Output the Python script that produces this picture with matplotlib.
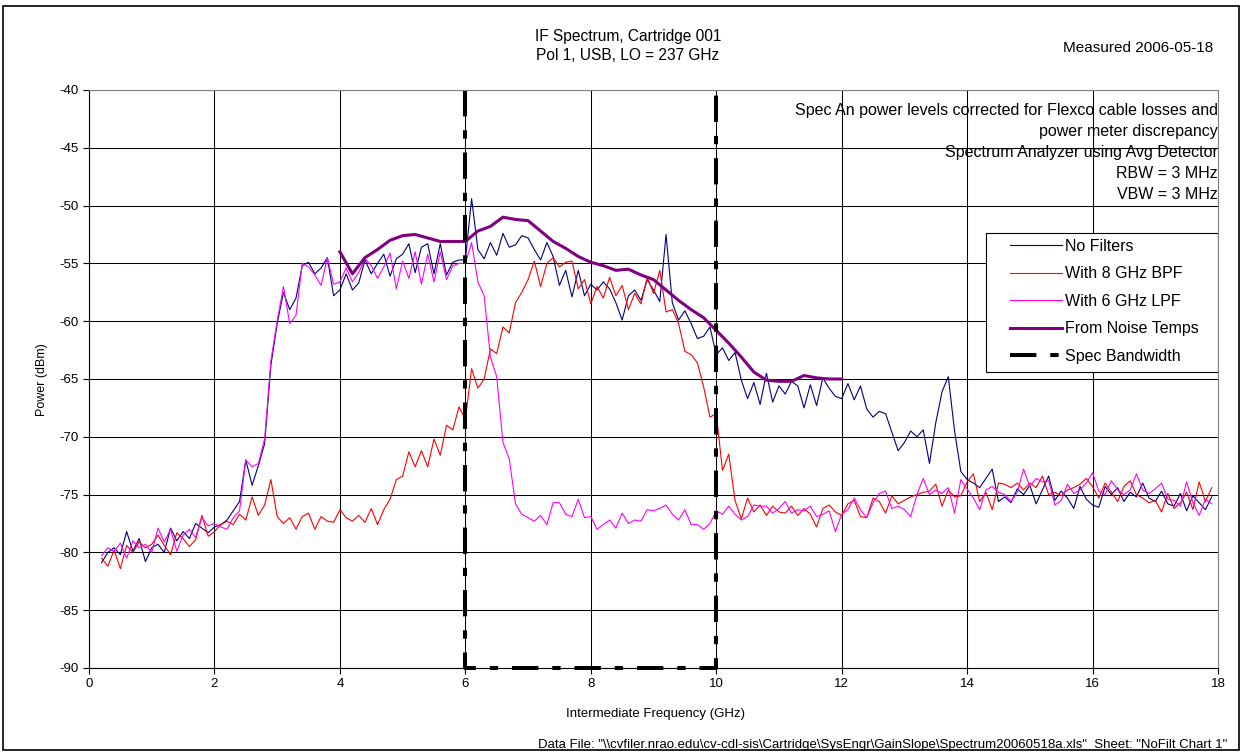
import numpy as np
import matplotlib
matplotlib.use("Agg")
import matplotlib.pyplot as plt
from matplotlib.patches import Rectangle

plt.rcParams['font.family'] = ['Liberation Sans', 'DejaVu Sans']
plt.rcParams['lines.scale_dashes'] = False
plt.rcParams['axes.unicode_minus'] = False

# frequency grid of the spectrum analyser sweeps (GHz)
freq = np.round(np.arange(0.2, 17.95, 0.1), 1)

no_filters = [
    -80.9, -80.0, -79.6, -80.2, -78.2, -79.9, -78.8, -80.8,
    -79.6, -79.3, -80.0, -77.9, -79.0, -78.2, -78.8, -77.5, -77.9, -78.3,
    -77.8, -77.6, -77.2, -76.4, -75.6, -72.0, -74.2, -72.5, -70.6, -63.8,
    -60.2, -57.5, -59.0, -58.0, -55.2, -54.9, -55.9, -55.4, -54.5, -57.8,
    -57.3, -55.9, -57.3, -56.7, -54.7, -55.9, -55.0, -54.2, -56.1, -54.6,
    -54.2, -53.3, -55.8, -53.6, -53.3, -55.9, -53.3, -56.0, -54.9, -54.7,
    -54.7, -49.4, -53.8, -54.6, -53.2, -54.3, -52.4, -53.6, -53.4, -52.6,
    -52.8, -53.8, -54.7, -53.2, -54.4, -56.9, -55.6, -57.9, -55.6, -57.8,
    -56.8, -57.3, -56.6, -57.2, -58.4, -59.9, -57.8, -57.3, -58.2, -56.4,
    -57.3, -58.3, -52.5, -58.4, -59.9, -59.1, -60.2, -61.5, -61.3, -60.5,
    -62.9, -62.3, -63.4, -62.7, -65.1, -66.7, -65.3, -67.2, -64.5, -67.0,
    -65.6, -66.3, -65.2, -65.6, -67.5, -65.5, -67.3, -64.9, -65.8, -66.5,
    -66.7, -65.4, -66.8, -65.6, -67.6, -68.3, -67.8, -68.0, -69.6, -71.2,
    -70.5, -69.5, -70.0, -69.4, -72.3, -68.8, -66.1, -64.8, -69.5, -73.0,
    -73.7, -74.0, -74.4, -73.6, -72.8, -75.6, -75.2, -75.7, -74.5, -75.0,
    -74.2, -75.8, -74.6, -73.4, -75.5, -74.7, -75.3, -76.2, -74.3, -75.4,
    -75.9, -76.1, -74.3, -75.0, -74.4, -75.6, -74.8, -75.2, -74.0, -75.3,
    -75.6, -74.7, -75.8, -76.0, -74.9, -76.4, -75.1, -75.7, -76.3, -75.2,
]

bpf_8ghz = [
    -80.5, -81.2, -79.8, -81.4, -79.4, -80.0, -79.1, -79.6,
    -79.3, -78.5, -79.4, -80.2, -78.3, -78.8, -79.5, -78.9, -76.8, -78.6,
    -78.2, -77.6, -77.3, -77.6, -76.7, -77.2, -75.2, -76.8, -75.9, -73.7,
    -76.9, -77.5, -77.0, -78.0, -76.9, -76.6, -78.0, -76.9, -77.3, -77.4,
    -76.3, -77.0, -77.3, -76.8, -77.4, -76.2, -77.6, -76.3, -75.4, -73.7,
    -73.4, -71.3, -72.6, -71.2, -72.6, -70.2, -71.6, -69.0, -69.4, -67.4,
    -68.5, -64.1, -65.8, -65.0, -62.4, -62.8, -60.5, -61.0, -58.4, -57.5,
    -56.4, -54.8, -57.0, -55.0, -54.5, -55.3, -54.9, -54.8, -57.2, -56.4,
    -58.5, -57.0, -58.0, -56.2, -57.8, -56.9, -59.0, -57.6, -58.5, -56.2,
    -57.6, -55.6, -59.2, -59.0, -60.2, -62.6, -62.9, -63.6, -65.7, -68.3,
    -68.0, -72.9, -71.5, -75.5, -77.1, -75.3, -76.5, -75.9, -76.8, -76.0,
    -76.5, -76.6, -76.0, -76.8, -76.2, -76.7, -77.8, -76.2, -75.9, -76.5,
    -76.8, -75.8, -75.5, -76.9, -77.0, -75.3, -75.6, -76.6, -75.1, -75.8,
    -75.5, -75.2, -75.0, -74.8, -74.7, -74.1, -76.0, -74.6, -75.2, -75.1,
    -73.9, -73.2, -75.6, -74.8, -76.3, -74.0, -74.1, -74.4, -74.0, -74.6,
    -74.0, -74.4, -73.4, -75.0, -74.8, -75.1, -74.6, -74.4, -74.1, -73.6,
    -74.3, -75.3, -74.0, -74.8, -75.6, -74.3, -73.8, -75.0, -75.3, -75.7,
    -75.5, -76.5, -74.9, -76.2, -75.7, -74.8, -76.3, -73.9, -75.6, -74.4,
]

lpf_6ghz = [
    -80.3, -79.6, -79.9, -79.2, -80.5, -79.0, -79.6, -79.3,
    -80.0, -77.9, -79.1, -78.0, -79.9, -78.5, -78.0, -78.7, -77.0, -77.7,
    -77.5, -77.8, -78.0, -77.0, -76.4, -72.0, -72.6, -72.3, -70.2, -63.4,
    -60.0, -57.0, -60.2, -59.5, -55.0, -55.3, -56.0, -56.9, -54.5, -56.8,
    -56.6, -55.4, -56.6, -55.8, -54.6, -55.2, -56.3, -55.3, -54.1, -57.2,
    -54.8, -56.3, -54.0, -56.8, -54.2, -56.6, -54.0, -56.4, -55.2, -55.0,
    -55.0, -53.2, -56.6, -57.8, -63.1, -64.8, -70.5, -71.9, -75.8, -76.7,
    -77.0, -77.3, -76.8, -77.6, -75.7, -75.7, -76.7, -76.9, -75.4, -77.0,
    -76.9, -78.0, -77.6, -77.2, -77.9, -76.6, -77.5, -77.2, -77.3, -76.3,
    -76.4, -76.2, -75.9, -76.7, -77.2, -76.3, -77.6, -77.6, -78.0, -77.5,
    -76.4, -76.7, -76.0, -76.7, -77.2, -76.9, -75.9, -76.0, -76.0, -76.6,
    -76.2, -75.6, -76.6, -76.3, -76.4, -76.0, -76.9, -76.7, -76.4, -78.2,
    -76.7, -76.3, -75.3, -76.3, -77.0, -75.7, -74.9, -74.7, -76.2, -76.0,
    -76.3, -76.9, -75.0, -73.6, -75.0, -74.6, -74.9, -74.4, -76.6, -73.7,
    -74.5, -75.3, -76.3, -74.6, -74.3, -74.8, -75.0, -75.6, -74.8, -72.8,
    -74.3, -73.6, -73.9, -73.8, -75.9, -75.5, -74.1, -74.9, -74.6, -74.0,
    -73.1, -74.7, -75.0, -73.8, -74.6, -75.0, -74.6, -73.2, -74.6, -74.9,
    -74.5, -74.0, -75.4, -75.5, -76.0, -73.9, -75.7, -76.8, -75.4, -75.8,
]

# receiver noise temperature prediction
nt_freq = [4.0, 4.2, 4.4, 4.6, 4.8, 5.0, 5.2, 5.4, 5.6, 5.8, 6.0, 6.2, 6.4, 6.6,
           6.8, 7.0, 7.2, 7.4, 7.6, 7.8, 8.0, 8.2, 8.4, 8.6, 8.8, 9.0, 9.2, 9.4,
           9.6, 9.8, 10.0, 10.2, 10.4, 10.6, 10.8, 11.0, 11.2, 11.4, 11.6, 11.8, 12.0]
noise_temps = [-54.0, -55.9, -54.5, -53.8, -53.0, -52.6, -52.5, -52.8, -53.1, -53.1,
               -53.1, -52.2, -51.8, -51.0, -51.2, -51.3, -52.2, -53.1, -53.7, -54.4,
               -54.9, -55.2, -55.6, -55.5, -56.0, -56.4, -57.3, -58.2, -59.0, -59.7,
               -60.8, -61.9, -63.1, -64.4, -65.1, -65.2, -65.2, -64.7, -64.9, -65.0, -65.0]

# spec bandwidth box 6-10 GHz
bw_freq = [6, 6, 10, 10]
bw_level = [-40, -90, -90, -40]

notes = ["Spec An power levels corrected for Flexco cable losses and",
         "power meter discrepancy",
         "Spectrum Analyzer using Avg Detector",
         "RBW = 3 MHz",
         "VBW = 3 MHz"]

W, H = 1242, 753
AX_L, AX_R, AX_T, AX_B = 89, 1218, 90, 668
fig = plt.figure(figsize=(W / 100, H / 100), dpi=100)
ax = fig.add_axes([AX_L / W, 1 - AX_B / H, (AX_R - AX_L) / W, (AX_B - AX_T) / H])


def axfrac(px, py):
    return (px - AX_L) / (AX_R - AX_L), (AX_B - py) / (AX_B - AX_T)


ax.plot(freq, no_filters, color='#000080', lw=0.8, label='No Filters')
ax.plot(freq, bpf_8ghz, color='#ff0000', lw=0.8, label='With 8 GHz BPF')
ax.plot(freq, lpf_6ghz, color='#ff00ff', lw=0.8, label='With 6 GHz LPF')
ax.plot(nt_freq, noise_temps, color='#800080', lw=2.2, label='From Noise Temps')
ax.plot(bw_freq, bw_level, color='black', lw=2.9, dashes=(19, 10, 6, 10),
        label='Spec Bandwidth', clip_on=False)

ax.set_xlim(0, 18)
ax.set_ylim(-90, -40)
ax.set_xticks(np.arange(0, 19, 2))
ax.set_yticks(np.arange(-90, -39, 5))
ax.grid(True, color='black', lw=0.75)
ax.set_axisbelow(True)
ax.tick_params(direction='out', length=4, width=0.8, labelsize=9.5, colors='black')
for s in ['top', 'right']:
    ax.spines[s].set_color('#808080')
for s in ['left', 'bottom']:
    ax.spines[s].set_color('black')

# legend frame drawn separately so the padding matches the original box
x0, y0 = axfrac(986, 372)
x1, y1 = axfrac(1218, 233)
ax.add_patch(Rectangle((x0, y0), x1 - x0, y1 - y0, transform=ax.transAxes,
                       facecolor='white', edgecolor='black', lw=0.8, zorder=4))
leg = ax.legend(loc='upper left', bbox_to_anchor=axfrac(1010, 239),
                fontsize=11.5, frameon=False, handlelength=3.25, handletextpad=0.2,
                labelspacing=0.78, borderpad=0, borderaxespad=0)
leg.set_zorder(5)

for i, line in enumerate(notes):
    ax.text(1.0, axfrac(0, 111 + 20.8 * i)[1], line, transform=ax.transAxes,
            ha='right', va='center', fontsize=11.5)

fig.text(628 / W, 1 - 36 / H, "IF Spectrum, Cartridge 001", ha='center', va='center', fontsize=11.2)
fig.text(628 / W, 1 - 56 / H, "Pol 1, USB, LO = 237 GHz", ha='center', va='center', fontsize=11.2)
fig.text(1213 / W, 1 - 48 / H, "Measured 2006-05-18", ha='right', va='center', fontsize=11)
fig.text(42 / W, 1 - 380 / H, "Power (dBm)", rotation=90, ha='center', va='center', fontsize=9)
fig.text(656 / W, 1 - 714 / H, "Intermediate Frequency (GHz)", ha='center', va='center', fontsize=9.5)
fig.text(1227 / W, 1 - 745 / H,
         'Data File: "\\\\cvfiler.nrao.edu\\cv-cdl-sis\\Cartridge\\SysEngr\\GainSlope\\Spectrum20060518a.xls"  Sheet: "NoFilt Chart 1"',
         ha='right', va='center', fontsize=9.5)

fig.patches.append(Rectangle((3 / W, 3 / H), 1236 / W, 744 / H, transform=fig.transFigure,
                             fill=False, edgecolor='black', lw=1.2))

fig.savefig('out.png', dpi=100)
